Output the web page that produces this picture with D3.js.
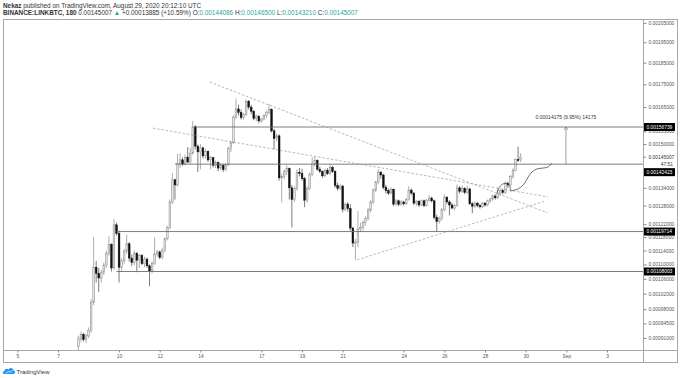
<!DOCTYPE html>
<html>
<head>
<meta charset="utf-8">
<script src="https://cdn.jsdelivr.net/npm/d3@7"></script>
<style>
  body { margin: 0; background: #fff; }
  svg { display: block; font-family: "Liberation Sans", Arial, sans-serif; }
</style>
</head>
<body>
<div id="chart"></div>
<script>
// LINKBTC 3h candles, prices in 1e-6 BTC
const firstBar = "2020-08-08T00:00:00Z";
const opens = [
  890, 908, 918, 906, 915, 928, 998, 1092,
  1075, 1062, 1078, 1098, 1132, 1158, 1090, 1218,
  1192, 1092, 1110, 1138, 1160, 1118, 1105, 1132,
  1112, 1125, 1102, 1115, 1096, 1082, 1102, 1130,
  1136, 1120, 1140, 1175, 1210, 1292, 1368, 1350,
  1428, 1440, 1425, 1450, 1432, 1465, 1568, 1492,
  1470, 1485, 1455, 1472, 1440, 1448, 1420, 1430,
  1410, 1420, 1404, 1422, 1482, 1505, 1608, 1642,
  1628, 1606, 1618, 1675, 1650, 1632, 1602, 1612,
  1592, 1600, 1615, 1628, 1640, 1552, 1522, 1532,
  1375, 1380, 1398, 1408, 1340, 1300, 1338, 1395,
  1390, 1372, 1298, 1338, 1388, 1425, 1438, 1406,
  1398, 1382, 1402, 1390, 1412, 1398, 1348, 1338,
  1346, 1268, 1285, 1270, 1208, 1162, 1165, 1205,
  1210, 1225, 1238, 1265, 1292, 1332, 1360, 1395,
  1385, 1342, 1330, 1322, 1335, 1285, 1296, 1284,
  1292, 1286, 1300, 1332, 1322, 1288, 1294, 1282,
  1296, 1280, 1298, 1305, 1296, 1242, 1228, 1238,
  1266, 1308, 1292, 1282, 1272, 1280, 1340, 1328,
  1338, 1324, 1336, 1286, 1278, 1288, 1280, 1276,
  1288, 1282, 1296, 1302, 1312, 1306, 1322, 1330,
  1324, 1355, 1350, 1380, 1402, 1441, 1440.86
];
const highs = [
  915, 925, 922, 920, 935, 1005, 1180, 1110,
  1090, 1085, 1105, 1140, 1183, 1162, 1237, 1225,
  1200, 1118, 1145, 1188, 1165, 1128, 1140, 1136,
  1130, 1130, 1122, 1120, 1100, 1108, 1180, 1142,
  1140, 1148, 1180, 1215, 1300, 1392, 1372, 1462,
  1465, 1450, 1460, 1488, 1485, 1592, 1575, 1498,
  1500, 1490, 1482, 1476, 1455, 1450, 1438, 1434,
  1428, 1424, 1428, 1490, 1512, 1615, 1686, 1660,
  1640, 1625, 1683, 1680, 1660, 1638, 1618, 1615,
  1606, 1620, 1635, 1663, 1645, 1560, 1540, 1538,
  1390, 1405, 1420, 1412, 1350, 1345, 1405, 1410,
  1408, 1378, 1345, 1395, 1450, 1452, 1442, 1415,
  1402, 1408, 1410, 1424, 1418, 1402, 1358, 1352,
  1350, 1290, 1292, 1285, 1212, 1175, 1262, 1225,
  1232, 1245, 1272, 1298, 1338, 1365, 1406, 1400,
  1390, 1350, 1338, 1342, 1338, 1302, 1300, 1298,
  1296, 1305, 1345, 1338, 1325, 1298, 1298, 1300,
  1300, 1302, 1315, 1310, 1300, 1250, 1245, 1272,
  1318, 1312, 1298, 1290, 1285, 1352, 1345, 1348,
  1342, 1346, 1340, 1292, 1294, 1292, 1286, 1292,
  1292, 1300, 1306, 1316, 1318, 1336, 1335, 1336,
  1362, 1362, 1385, 1410, 1445, 1490, 1465
];
const lows = [
  880, 900, 902, 898, 910, 922, 990, 1050,
  1025, 1050, 1070, 1090, 1125, 1080, 1085, 1185,
  1050, 1078, 1100, 1130, 1108, 1095, 1098, 1078,
  1090, 1098, 1092, 1090, 1040, 1075, 1098, 1122,
  1115, 1115, 1135, 1170, 1205, 1285, 1300, 1345,
  1410, 1418, 1420, 1428, 1425, 1460, 1480, 1396,
  1405, 1445, 1445, 1432, 1405, 1412, 1410, 1398,
  1402, 1396, 1398, 1418, 1470, 1500, 1600, 1615,
  1598, 1598, 1612, 1640, 1620, 1595, 1590, 1582,
  1585, 1595, 1605, 1620, 1545, 1480, 1510, 1365,
  1290, 1370, 1385, 1300, 1210, 1292, 1330, 1380,
  1365, 1275, 1290, 1332, 1380, 1415, 1400, 1392,
  1375, 1378, 1385, 1386, 1392, 1340, 1330, 1332,
  1258, 1262, 1260, 1200, 1150, 1112, 1150, 1195,
  1200, 1215, 1232, 1258, 1285, 1325, 1352, 1372,
  1335, 1320, 1315, 1318, 1278, 1280, 1278, 1280,
  1280, 1282, 1296, 1315, 1282, 1280, 1276, 1278,
  1275, 1276, 1292, 1290, 1235, 1198, 1222, 1232,
  1260, 1285, 1248, 1268, 1265, 1276, 1320, 1322,
  1318, 1320, 1282, 1255, 1272, 1274, 1270, 1272,
  1276, 1278, 1288, 1296, 1300, 1302, 1312, 1318,
  1318, 1340, 1345, 1372, 1398, 1432, 1432.1
];
const closes = [
  908, 918, 906, 915, 928, 998, 1092, 1075,
  1062, 1078, 1098, 1132, 1158, 1090, 1218, 1192,
  1092, 1110, 1138, 1160, 1118, 1105, 1132, 1112,
  1125, 1102, 1115, 1096, 1082, 1102, 1130, 1136,
  1120, 1140, 1175, 1210, 1292, 1368, 1350, 1428,
  1440, 1425, 1450, 1432, 1465, 1568, 1492, 1470,
  1485, 1455, 1472, 1440, 1448, 1420, 1430, 1410,
  1420, 1404, 1422, 1482, 1505, 1608, 1642, 1628,
  1606, 1618, 1675, 1650, 1632, 1602, 1612, 1592,
  1600, 1615, 1628, 1640, 1552, 1522, 1532, 1375,
  1380, 1398, 1408, 1340, 1300, 1338, 1395, 1390,
  1372, 1298, 1338, 1388, 1425, 1438, 1406, 1398,
  1382, 1402, 1390, 1412, 1398, 1348, 1338, 1346,
  1268, 1285, 1270, 1208, 1162, 1165, 1205, 1210,
  1225, 1238, 1265, 1292, 1332, 1360, 1395, 1385,
  1342, 1330, 1322, 1335, 1285, 1296, 1284, 1292,
  1286, 1300, 1332, 1322, 1288, 1294, 1282, 1296,
  1280, 1298, 1305, 1296, 1242, 1228, 1238, 1266,
  1308, 1292, 1282, 1272, 1280, 1340, 1328, 1338,
  1324, 1336, 1286, 1278, 1288, 1280, 1276, 1288,
  1282, 1296, 1302, 1312, 1306, 1322, 1330, 1324,
  1355, 1350, 1380, 1402, 1441, 1440.86, 1450.07
];

const priceTicks = [2050, 1950, 1850, 1750, 1650, 1550, 1500, 1340, 1280, 1220, 1180, 1140, 1100, 1060, 1020, 980, 945, 910];
const dateTicks = ["2020-08-05", "2020-08-07", "2020-08-10", "2020-08-12", "2020-08-14", "2020-08-17", "2020-08-19",
  "2020-08-21", "2020-08-24", "2020-08-26", "2020-08-28", "2020-08-30", "2020-09-01", "2020-09-03"];
const dateLabels = ["5", "7", "10", "12", "14", "17", "19", "21", "24", "26", "28", "30", "Sep", "3"];

// horizontal rays
const levels = [1567.39, 1424.23, 1197.14, 1080.03];
const levelStarts = ["2020-08-13T18:00Z", "2020-08-12T18:00Z", "2020-08-09T21:00Z", "2020-08-09T21:00Z"];

// dashed trend lines [date, price]
const trendLines = [
  [["2020-08-14T11:00Z", 1760], ["2020-08-31T02:00Z", 1256]],
  [["2020-08-11T16:00Z", 1563], ["2020-08-31T02:00Z", 1309]],
  [["2020-08-21T17:00Z", 1113], ["2020-08-30T23:00Z", 1295]]
];
// hand drawn projection
const pathArc = [["2020-08-28T14:00Z", 1323], ["2020-08-28T18:00Z", 1346], ["2020-08-29T00:00Z", 1356],
  ["2020-08-29T04:30Z", 1349], ["2020-08-29T06:30Z", 1333]];
const pathCurve = [["2020-08-29T05:30Z", 1329], ["2020-08-29T15:00Z", 1336], ["2020-08-29T22:00Z", 1353],
  ["2020-08-30T03:00Z", 1378], ["2020-08-30T07:30Z", 1396], ["2020-08-30T13:30Z", 1407],
  ["2020-08-30T20:30Z", 1410], ["2020-08-31T02:30Z", 1414], ["2020-08-31T07:00Z", 1428]];
const measureDate = "2020-08-31T23:30Z";
const measureText = "0.00014175 (9.95%) 14175";

const width = 680, height = 378;
const frame = { left: 3, top: 19, right: 677, bottom: 362 };
const paneRight = 643, paneBottom = 350;

const svg = d3.select("#chart").append("svg")
  .attr("width", width).attr("height", height)
  .style("background", "#fff");

const x = d3.scaleUtc()
  .domain([new Date("2020-08-05T00:00Z"), new Date("2020-09-03T00:00Z")])
  .range([17.4, 607]);
const y = d3.scaleLog()
  .domain([1080.03, 1567.39])
  .range([271.5, 127]);

const fmt = (v) => (v / 1e6).toFixed(8);

// header
const head = svg.append("g").style("font-size", "6.4px").attr("fill", "#333");
head.append("text").attr("x", 3).attr("y", 7.5)
  .call((t) => {
    t.append("tspan").attr("font-weight", "bold").text("Nekaz");
    t.append("tspan").text(" published on TradingView.com, August 29, 2020 20:12:10 UTC");
  });
const l2 = head.append("text").attr("x", 3).attr("y", 15);
l2.append("tspan").attr("font-weight", "bold").text("BINANCE:LINKBTC, 180");
l2.append("tspan").text(" " + fmt(closes[closes.length - 1]) + " ");
l2.append("tspan").attr("fill", "#26a69a").text("▲");
l2.append("tspan").text(" +0.00013885 (+10.59%) ");
[["O", opens], ["H", highs], ["L", lows], ["C", closes]].forEach(([k, arr]) => {
  l2.append("tspan").text(" " + k + ":");
  l2.append("tspan").attr("fill", "#26a69a").text(fmt(arr[arr.length - 1]));
});

// frame
svg.append("rect")
  .attr("x", frame.left + 0.5).attr("y", frame.top + 0.5)
  .attr("width", frame.right - frame.left).attr("height", frame.bottom - frame.top)
  .attr("fill", "none").attr("stroke", "#a8a8a8");
svg.append("line").attr("x1", paneRight + 0.5).attr("x2", paneRight + 0.5)
  .attr("y1", frame.top).attr("y2", frame.bottom).attr("stroke", "#a8a8a8");
svg.append("line").attr("x1", frame.left).attr("x2", frame.right)
  .attr("y1", paneBottom + 0.5).attr("y2", paneBottom + 0.5).attr("stroke", "#a8a8a8");

svg.append("clipPath").attr("id", "pane").append("rect")
  .attr("x", frame.left + 1).attr("y", frame.top + 1)
  .attr("width", paneRight - frame.left - 1).attr("height", paneBottom - frame.top - 1);

const pane = svg.append("g").attr("clip-path", "url(#pane)");

// candles
const bars = closes.map((c, i) => ({
  t: new Date(new Date(firstBar).getTime() + i * 3 * 3600e3),
  o: opens[i], h: highs[i], l: lows[i], c
}));
const bodyW = 1.7;
const candle = pane.append("g").selectAll("g").data(bars).join("g");
candle.append("line")
  .attr("x1", (d) => x(d.t)).attr("x2", (d) => x(d.t))
  .attr("y1", (d) => y(d.h)).attr("y2", (d) => y(d.l))
  .attr("stroke", (d) => d.c >= d.o ? "#8a8a8a" : "#444")
  .attr("stroke-width", 0.7);
candle.append("rect")
  .attr("x", (d) => x(d.t) - bodyW / 2)
  .attr("width", bodyW)
  .attr("y", (d) => y(Math.max(d.o, d.c)))
  .attr("height", (d) => Math.max(0.8, Math.abs(y(d.o) - y(d.c))))
  .attr("fill", (d) => d.c >= d.o ? "#e4e4e4" : "#111")
  .attr("stroke", (d) => d.c >= d.o ? "#8a8a8a" : "#111")
  .attr("stroke-width", 0.5);

// horizontal rays
levels.forEach((p, i) => {
  pane.append("line")
    .attr("x1", x(new Date(levelStarts[i]))).attr("x2", paneRight)
    .attr("y1", y(p)).attr("y2", y(p))
    .attr("stroke", "#6e6e6e").attr("stroke-width", 0.9);
});

// trend lines
trendLines.forEach((seg) => {
  pane.append("line")
    .attr("x1", x(new Date(seg[0][0]))).attr("y1", y(seg[0][1]))
    .attr("x2", x(new Date(seg[1][0]))).attr("y2", y(seg[1][1]))
    .attr("stroke", "#9a9a9a").attr("stroke-width", 0.7)
    .attr("stroke-dasharray", "2.5,1.8");
});

// projection drawings
const draw = d3.line()
  .x((d) => x(new Date(d[0]))).y((d) => y(d[1]))
  .curve(d3.curveCatmullRom);
[pathArc, pathCurve].forEach((pts) => {
  pane.append("path").attr("d", draw(pts))
    .attr("fill", "none").attr("stroke", "#333").attr("stroke-width", 0.7);
});

// price range measure
const mx = x(new Date(measureDate));
const mTop = y(levels[0]), mBot = y(levels[1]);
pane.append("line").attr("x1", mx).attr("x2", mx).attr("y1", mTop).attr("y2", mBot)
  .attr("stroke", "#777").attr("stroke-width", 0.7);
pane.append("path")
  .attr("d", `M${mx - 2},${mTop + 3}L${mx},${mTop}L${mx + 2},${mTop + 3}`)
  .attr("fill", "none").attr("stroke", "#777").attr("stroke-width", 0.7);
pane.append("text").attr("x", mx).attr("y", mTop - 8)
  .attr("text-anchor", "middle").attr("fill", "#333")
  .style("font-size", "5px").text(measureText);

// price axis
const yAxis = svg.append("g")
  .attr("transform", `translate(${paneRight + 0.5},0)`)
  .call(d3.axisRight(y).tickValues(priceTicks).tickSize(3).tickPadding(2).tickFormat(fmt));
yAxis.select(".domain").remove();
yAxis.selectAll("line").attr("stroke", "#888");
yAxis.selectAll("text").attr("fill", "#555").style("font-size", "4.9px")
  .style("font-family", "Liberation Sans, Arial, sans-serif");

// last price + countdown
const last = closes[closes.length - 1];
svg.append("line").attr("x1", paneRight).attr("x2", paneRight + 3)
  .attr("y1", y(last)).attr("y2", y(last)).attr("stroke", "#888");
svg.append("text").attr("x", paneRight + 5.5).attr("y", y(last)).attr("dy", "0.32em")
  .attr("fill", "#333").style("font-size", "4.9px").text(fmt(last));
svg.append("text").attr("x", 673).attr("y", y(last) + 7.5).attr("dy", "0.32em")
  .attr("text-anchor", "end").attr("fill", "#333").style("font-size", "4.9px").text("47:51");

// level labels
const labelShift = [0, 8, 0, 0];
levels.forEach((p, i) => {
  const cy = y(p) + labelShift[i];
  svg.append("rect").attr("x", paneRight + 1).attr("y", cy - 4)
    .attr("width", 31).attr("height", 8).attr("fill", "#000");
  svg.append("text").attr("x", paneRight + 3.5).attr("y", cy).attr("dy", "0.34em")
    .attr("fill", "#fff").style("font-size", "4.9px").text(fmt(p));
});

// date axis
const xAxis = svg.append("g")
  .attr("transform", `translate(0,${paneBottom + 0.5})`)
  .call(d3.axisBottom(x)
    .tickValues(dateTicks.map((d) => new Date(d + "T00:00Z")))
    .tickSize(2).tickPadding(2.5)
    .tickFormat((d, i) => dateLabels[i]));
xAxis.select(".domain").remove();
xAxis.selectAll("line").attr("stroke", "#888");
xAxis.selectAll("text").attr("fill", "#555").style("font-size", "4.9px")
  .style("font-family", "Liberation Sans, Arial, sans-serif");

// TradingView logo
const logo = svg.append("g").attr("transform", "translate(3,366)");
logo.append("path")
  .attr("d", "M1,8 C-0.5,8 -0.5,5 1.5,5 C1.5,2.5 4.5,2 5.5,3.5 C6.5,1 10.5,1.5 10.5,4.5 C12.5,4.5 12.5,8 10.5,8 Z")
  .attr("fill", "#2196f3");
logo.append("path").attr("d", "M3,7.5 L5.5,5 L7,6.5 L9.5,4")
  .attr("fill", "none").attr("stroke", "#fff").attr("stroke-width", 0.8);
logo.append("text").attr("x", 13.5).attr("y", 7.5).attr("fill", "#333")
  .style("font-size", "6px").text("TradingView");
</script>
</body>
</html>
